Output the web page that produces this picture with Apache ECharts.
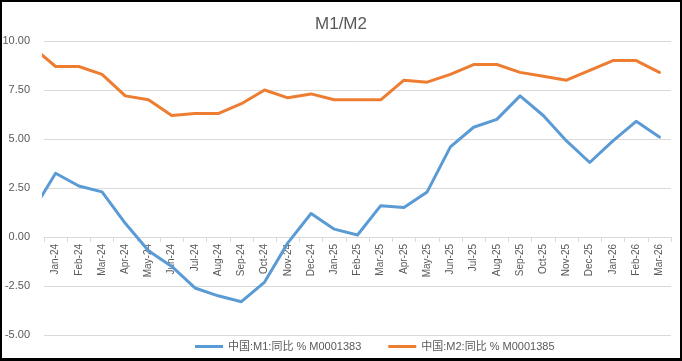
<!DOCTYPE html>
<html>
<head>
<meta charset="utf-8">
<script src="https://cdn.jsdelivr.net/npm/echarts@6/dist/echarts.min.js"></script>
<style>
  html, body { margin: 0; padding: 0; background: #fff; }
  #frame { width: 682px; height: 361px; box-sizing: border-box; border-style: solid; border-color: #000; border-width: 2px 2px 3px 2px; position: relative; overflow: hidden; }
  #chart { position: absolute; left: -2px; top: -2px; width: 682px; height: 361px; }
</style>
</head>
<body>
<div id="frame"><div id="chart"></div></div>
<script>
// First period (Dec-23) lies just left of the plot and is clipped at the plot edge.
const periods = ['Dec-23','Jan-24','Feb-24','Mar-24','Apr-24','May-24','Jun-24','Jul-24','Aug-24','Sep-24','Oct-24','Nov-24','Dec-24',
  'Jan-25','Feb-25','Mar-25','Apr-25','May-25','Jun-25','Jul-25','Aug-25','Sep-25','Oct-25','Nov-25','Dec-25',
  'Jan-26','Feb-26','Mar-26'];
const categories = periods.slice(1);
const m1 = [1.3, 3.25, 2.6, 2.3, 0.7, -0.7, -1.5, -2.6, -3.0, -3.3, -2.3, -0.3, 1.2,
  0.4, 0.1, 1.6, 1.5, 2.3, 4.6, 5.6, 6.0, 7.2, 6.2, 4.9, 3.8, 4.9, 5.9, 5.1];
const m2 = [9.7, 8.7, 8.7, 8.3, 7.2, 7.0, 6.2, 6.3, 6.3, 6.8, 7.5, 7.1, 7.3,
  7.0, 7.0, 7.0, 8.0, 7.9, 8.3, 8.8, 8.8, 8.4, 8.2, 8.0, 8.5, 9.0, 9.0, 8.4];
const yTicks = { min: -5, max: 10, step: 2.5 };
const seriesNames = ['中国:M1:同比 % M0001383', '中国:M2:同比 % M0001385'];

const toPairs = arr => arr.map((v, i) => [i - 1, v]);
const font = '"Liberation Sans", "Noto Sans CJK SC", sans-serif';

const W = 682, H = 361;
const gridBox = { left: 44, right: 11, top: 41, bottom: 26 };
const gridH = H - gridBox.top - gridBox.bottom;
// lift the category axis from the plot bottom to the zero line
const zeroLift = -gridH * (0 - yTicks.min) / (yTicks.max - yTicks.min);

const chart = echarts.init(document.getElementById('chart'), null, { renderer: 'canvas' });
chart.setOption({
  animation: false,
  backgroundColor: 'transparent',
  title: {
    text: 'M1/M2', left: 'center', top: 11,
    textStyle: { fontSize: 17, fontWeight: 'normal', color: '#595959', fontFamily: font }
  },
  grid: Object.assign({ containLabel: false, outerBoundsMode: 'none' }, gridBox),
  legend: {
    bottom: 4, left: 190, itemGap: 27, itemWidth: 28, itemHeight: 3, icon: 'rect',
    textStyle: { fontSize: 11, color: '#595959', fontFamily: font },
    data: seriesNames
  },
  xAxis: [
    {
      type: 'category', data: categories, boundaryGap: true, position: 'bottom', offset: zeroLift,
      axisLine: { onZero: false, lineStyle: { color: '#d9d9d9', width: 1 } },
      axisTick: { show: true, length: 5, lineStyle: { color: '#d9d9d9' } },
      axisLabel: { rotate: 90, interval: 0, fontSize: 10, color: '#595959', margin: 7, fontFamily: font },
      splitLine: { show: false }
    },
    {
      type: 'value', min: -0.5, max: categories.length - 0.5, show: false,
      axisLine: { onZero: false }, splitLine: { show: false }
    }
  ],
  yAxis: {
    type: 'value', min: yTicks.min, max: yTicks.max, interval: yTicks.step,
    axisLine: { show: false, onZero: false }, axisTick: { show: false },
    axisLabel: { formatter: v => v.toFixed(2), fontSize: 11, color: '#595959', margin: 14, fontFamily: font },
    splitLine: { lineStyle: { color: '#d9d9d9', width: 1 } }
  },
  series: [
    {
      name: seriesNames[0], type: 'line', xAxisIndex: 1, data: toPairs(m1),
      symbol: 'none', clip: true, z: 3,
      lineStyle: { color: '#5B9BD5', width: 3, cap: 'round', join: 'round' },
      itemStyle: { color: '#5B9BD5' }
    },
    {
      name: seriesNames[1], type: 'line', xAxisIndex: 1, data: toPairs(m2),
      symbol: 'none', clip: true, z: 3,
      lineStyle: { color: '#ED7D31', width: 3, cap: 'round', join: 'round' },
      itemStyle: { color: '#ED7D31' }
    }
  ]
});
</script>
</body>
</html>
